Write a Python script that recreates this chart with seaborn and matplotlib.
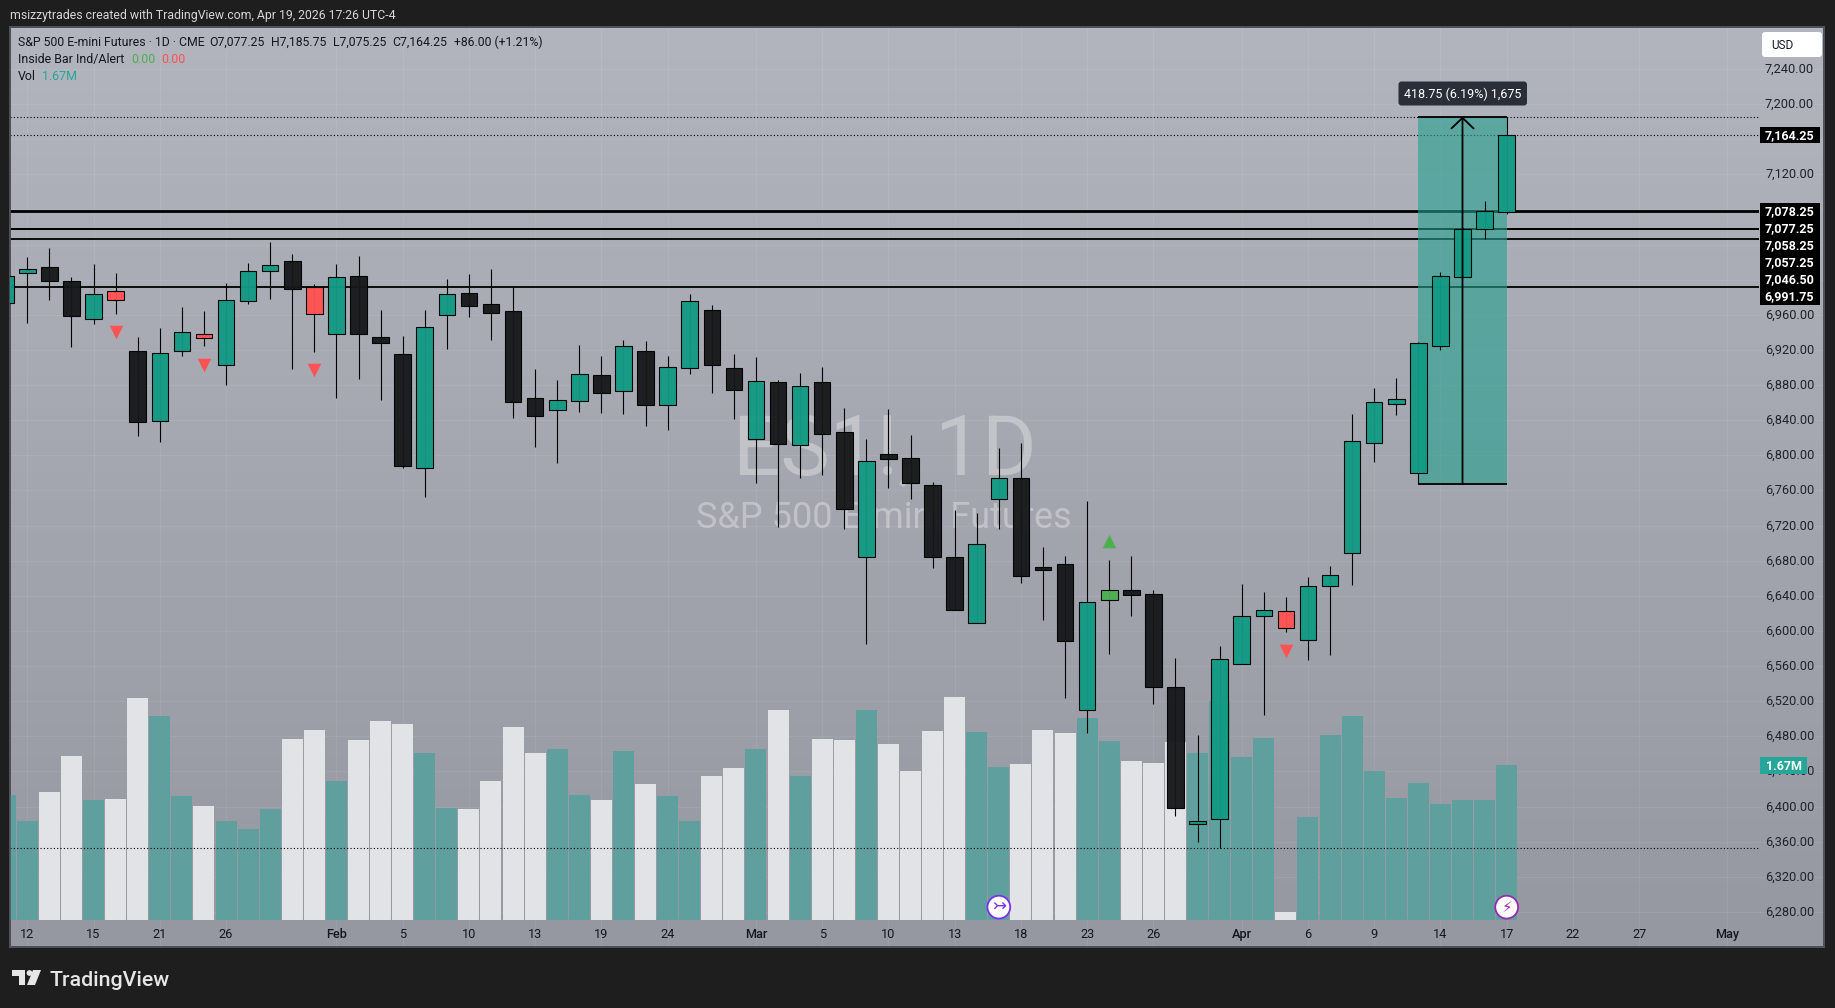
import numpy as np
import pandas as pd
import seaborn as sns
import matplotlib
matplotlib.use('Agg')
from matplotlib import pyplot as plt
from matplotlib.patches import FancyBboxPatch, Rectangle, Polygon, Circle
from matplotlib.transforms import IdentityTransform, Affine2D

# daily candles, first one sits half outside the left edge
opens = [6973.0, 7007.25, 7014.0, 6998.25, 6955.5, 6986.75, 6918.5, 6838.5, 6919.25, 6937.75, 6903.25, 6976.0, 7010.25, 7021.0,
         6992.0, 6938.5, 7003.75, 6934.5, 6915.0, 6785.0, 6960.25, 6984.5, 6972.0, 6964.0, 6865.0, 6852.0, 6862.25, 6891.0,
         6873.5, 6918.5, 6857.75, 6899.75, 6965.0, 6899.0, 6819.0, 6883.0, 6812.0, 6883.0, 6826.25, 6684.5, 6801.0, 6796.5,
         6765.75, 6684.0, 6608.75, 6750.5, 6773.75, 6672.75, 6675.75, 6509.5, 6635.0, 6646.25, 6641.75, 6535.75, 6379.75,
         6385.5, 6562.0, 6617.5, 6622.25, 6589.25, 6650.75, 6688.5, 6813.75, 6858.0, 6779.5, 6925.0, 7003.5, 7057.25, 7077.25]
highs = [7010.0, 7025.5, 7035.75, 7002.75, 7017.5, 7007.25, 6934.5, 6944.5, 6968.5, 6964.0, 6996.0, 7018.5, 7042.5, 7029.25,
         6994.75, 7017.5, 7026.5, 6965.5, 6935.5, 6965.5, 7000.5, 7006.0, 7011.75, 6991.25, 6898.0, 6885.75, 6925.25, 6912.75,
         6931.0, 6929.75, 6912.75, 6983.25, 6970.75, 6915.0, 6911.5, 6885.75, 6893.25, 6900.25, 6853.5, 6818.5, 6852.5, 6822.75,
         6769.25, 6737.5, 6734.0, 6808.0, 6813.5, 6695.5, 6685.25, 6748.0, 6680.5, 6685.25, 6646.25, 6568.75, 6481.25,
         6582.5, 6653.0, 6644.0, 6638.25, 6661.0, 6673.5, 6846.75, 6876.25, 6887.75, 6928.75, 7008.75, 7058.5, 7089.5, 7185.75]
lows = [6960.0, 6951.0, 6977.25, 6923.75, 6950.0, 6961.25, 6822.5, 6815.5, 6912.5, 6925.0, 6879.5, 6972.75, 6978.0, 6898.25,
        6918.0, 6865.75, 6887.25, 6863.0, 6786.0, 6752.0, 6921.5, 6957.5, 6931.75, 6843.0, 6809.5, 6791.75, 6849.75, 6848.5,
        6847.5, 6833.75, 6829.25, 6893.0, 6871.25, 6841.75, 6769.0, 6718.75, 6774.5, 6778.0, 6716.5, 6585.5, 6763.25, 6750.5,
        6671.75, 6624.25, 6608.75, 6716.5, 6655.0, 6612.5, 6524.0, 6484.25, 6574.0, 6617.5, 6517.25, 6389.75, 6360.0,
        6353.25, 6562.0, 6504.75, 6599.25, 6567.25, 6573.0, 6652.5, 6792.75, 6846.25, 6767.0, 6920.25, 7003.5, 7046.25, 7075.25]
closes = [7003.75, 7011.75, 6999.0, 6959.0, 6983.5, 6977.25, 6837.5, 6916.25, 6940.0, 6933.0, 6976.5, 7009.5, 7016.5, 6989.75,
          6961.25, 7002.75, 6938.5, 6928.25, 6788.25, 6945.75, 6983.5, 6970.5, 6962.5, 6861.25, 6845.25, 6862.75, 6892.25, 6871.5,
          6924.0, 6857.75, 6900.25, 6975.25, 6903.25, 6874.75, 6884.25, 6813.25, 6878.5, 6824.5, 6739.25, 6793.25, 6796.25, 6769.0,
          6684.5, 6624.25, 6698.75, 6773.75, 6663.0, 6669.5, 6588.25, 6632.5, 6646.25, 6640.5, 6535.75, 6398.0, 6383.25,
          6567.75, 6616.75, 6623.5, 6603.0, 6650.75, 6663.25, 6816.0, 6860.25, 6863.75, 6927.5, 7003.75, 7058.25, 7077.75, 7164.25]
# g = up, k = down, r / l = inside bar alert colours
kinds = list('ggkkgrkggrgggkrgkkkggkkkkggkgkggkkgkgkkg' 'kkkkggkkkgl' 'kkkggggr' 'gggggggggg')

volumes = [1.347, 1.067, 1.379, 1.767, 1.293, 1.304, 2.392, 2.198, 1.336, 1.228, 1.067, 0.980, 1.196, 1.950, 2.047, 1.497,
           1.939, 2.144, 2.111, 1.799, 1.207, 1.196, 1.497, 2.079, 1.799, 1.842, 1.347, 1.293, 1.821, 1.465, 1.336, 1.067,
           1.551, 1.637, 1.842, 2.262, 1.551, 1.950, 1.939, 2.262, 1.896, 1.605, 2.036, 2.402, 2.025, 1.648, 1.681, 2.047,
           2.015, 2.176, 1.928, 1.713, 1.691, 1.918, 1.799, 2.359, 1.756, 1.961, 0.086, 1.110, 1.993, 2.198, 1.605, 1.314,
           1.476, 1.250, 1.293, 1.293, 1.670]
white_volume_bars = [1, 2, 4, 5, 8, 12, 13, 15, 16, 17, 20, 21, 22, 23, 26, 28, 31, 32, 34, 36, 37, 39, 40, 41, 42,
                     45, 46, 47, 50, 51, 52, 57]

x_tick_bars = [0, 3, 6, 9, 14, 17, 20, 23, 26, 29, 33, 36, 39, 42, 45, 48, 51, 55, 58, 61, 64, 67, 70, 73, 77]
x_tick_labels = ['12', '15', '21', '26', 'Feb', '5', '10', '13', '19', '24', 'Mar', '5', '10', '13', '18', '23', '26',
                 'Apr', '6', '9', '14', '17', '22', '27', 'May']
price_ticks = list(range(6280, 7241, 40))
hidden_price_ticks = [7160, 7080, 7040, 7000]  # sit behind the black flags
level_prices = [7078.25, 7077.25, 7058.25, 7057.25, 7046.50, 6991.75]
dotted_prices = [7185.75, 7164.25, 6353.25]
down_signal_bars = [4, 8, 13, 57]
down_signal_prices = [6940.0, 6903.25, 6896.75, 6577.5]
up_signal_bars = [49]
up_signal_prices = [6702.5]

sns.set_theme(style='white')
plt.rcParams['font.family'] = ['Roboto', 'DejaVu Sans']

W, H = 1835, 1008
LEFT, RIGHT, TOP, BOTTOM = 10, 1824, 27, 947
bars = np.arange(-1, 68)
x_lim = ((LEFT - 27.3) / 22.08, (RIGHT - 27.3) / 22.08)
y_lim = (6240.1, 7287.7)
vol_lim = (-0.291, 9.62)
identity = IdentityTransform()


def fx(px):
    return px / W


def fy(py):
    return 1 - py / H


def ax_frac(px, py):
    return (px - LEFT) / (RIGHT - LEFT), (BOTTOM - py) / (BOTTOM - TOP)


fig = plt.figure(figsize=(W / 100, H / 100), dpi=100, facecolor='#1e1e1e')
rect = [fx(LEFT), fy(BOTTOM), (RIGHT - LEFT) / W, (BOTTOM - TOP) / H]
ax_bg = fig.add_axes(rect, zorder=0)
ax_vol = fig.add_axes(rect, zorder=1)
ax = fig.add_axes(rect, zorder=2)
ax_vol.patch.set_visible(False)
ax.patch.set_visible(False)

# gradient background with faint grid and watermark
gradient = np.linspace(0, 1, 256).reshape(-1, 1)
cmap = matplotlib.colors.LinearSegmentedColormap.from_list('pane', ['#b2b5be', '#9598a1'])
ax_bg.imshow(gradient, aspect='auto', cmap=cmap, extent=(*x_lim, *y_lim), origin='upper', zorder=0)
ax_bg.set_xlim(x_lim)
ax_bg.set_ylim(y_lim)
ax_bg.set_xticks(x_tick_bars)
ax_bg.set_yticks(price_ticks)
ax_bg.set_xticklabels([])
ax_bg.set_yticklabels([])
ax_bg.tick_params(length=0)
ax_bg.grid(True, color='white', alpha=0.07, lw=0.8)
ax_bg.set_axisbelow(False)
ax_bg.text(*ax_frac(885, 451), 'ES1!, 1D', transform=ax_bg.transAxes,
           ha='center', va='center', fontsize=60, color='white', alpha=0.33)
ax_bg.text(*ax_frac(884, 518), 'S&P 500 E-mini Futures', transform=ax_bg.transAxes,
           ha='center', va='center', fontsize=26, color='white', alpha=0.33)

# volume panel
vol_df = pd.DataFrame({'bar': bars, 'volume': volumes})
vol_df['side'] = ['down' if b in white_volume_bars else 'up' for b in bars]
sns.barplot(data=vol_df, x='bar', y='volume', hue='side', palette={'up': '#5fa09f', 'down': '#e2e3e6'}, native_scale=True,
            dodge=False, width=0.95, saturation=1, legend=False, linewidth=0, edgecolor='none', ax=ax_vol)
ax_vol.set_xlim(x_lim)
ax_vol.set_ylim(vol_lim)
ax_vol.set_axis_off()

# key levels and high/low/close dotted lines
level_end = (1759 - 27.3) / 22.08
ax.hlines(level_prices, x_lim[0], level_end, color='black', lw=1.3, zorder=2)
ax.hlines(dotted_prices, x_lim[0], level_end, color='black', lw=0.8, linestyles=(0, (1, 2)), zorder=2)

# measure tool
ax.add_patch(Rectangle((63, 6767), 4, 7185.75 - 6767, facecolor='#26a090', alpha=0.6, lw=0, zorder=3))
ax.hlines([6767, 7185.75], 63, 67, color='black', lw=1.3, zorder=3)

# candles
candle_colors = {'g': '#129a84', 'k': '#17181a', 'r': '#ff5252', 'l': '#4caf50'}
opens_a, closes_a = np.array(opens), np.array(closes)
ax.vlines(bars, lows, highs, color='black', lw=0.8, zorder=4)
ax.bar(bars, np.abs(closes_a - opens_a), bottom=np.minimum(opens_a, closes_a), width=0.75,
       color=[candle_colors[k] for k in kinds], edgecolor='black', linewidth=0.8, alpha=0.96, zorder=4.5)

ax.annotate('', xy=(65, 7185.75), xytext=(65, 6767), zorder=5,
            arrowprops=dict(arrowstyle='->,head_length=7.7,head_width=8', mutation_scale=1, lw=1.3, color='black', shrinkA=0, shrinkB=0))

# inside bar signals
sns.scatterplot(x=down_signal_bars, y=down_signal_prices, marker='v', s=95, color='#ff5252', linewidth=0, ax=ax, zorder=4)
sns.scatterplot(x=up_signal_bars, y=up_signal_prices, marker='^', s=95, color='#4caf50', linewidth=0, ax=ax, zorder=4)

# session icons at the foot of the pane
ax.scatter([44, 67], [6285.5, 6285.5], s=270, facecolor='white', edgecolor=['#7b2ff0', '#9c27b0'], linewidth=1.3, zorder=6)
ax.text(44, 6285.5, '\u21a3', color='#7b2ff0', ha='center', va='center', fontsize=12, family='DejaVu Sans', zorder=7)
ax.text(67, 6285.5, '\u26a1', color='#9c27b0', ha='center', va='center', fontsize=11, family='DejaVu Sans', zorder=7)

ax.set_xlim(x_lim)
ax.set_ylim(y_lim)
ax.set_xticks(x_tick_bars, x_tick_labels)
ax.yaxis.tick_right()
ax.set_yticks(price_ticks, ['' if p in hidden_price_ticks else f'{p:,.2f}' for p in price_ticks])
ax.tick_params(axis='x', length=0, pad=-13.8, labelsize=9.2, labelcolor='#131722')
ax.tick_params(axis='y', length=0, pad=-7.2, labelsize=9.2, labelcolor='#1e222d')
for label in ax.get_yticklabels():
    label.set_ha('right')
    label.set_va('center_baseline')
    label.set_transform(label.get_transform() + Affine2D().translate(0, 1.2))
for label in ax.get_xticklabels():
    if label.get_text() in ('Feb', 'Mar', 'Apr', 'May'):
        label.set_fontweight('medium')
for spine in ax.spines.values():
    spine.set_color('#55585f')
    spine.set_linewidth(1.2)


def px_text(px, py, s, **kw):
    kw.setdefault('fontsize', 9.2)
    kw.setdefault('va', 'center')
    kw.setdefault('zorder', 20)
    return fig.text(fx(px), fy(py), s, **kw)


def px_box(x0, y0, x1, y1, color, round_px=0):
    if round_px:
        patch = FancyBboxPatch((x0 + round_px, H - y1 + round_px), x1 - x0 - 2 * round_px, y1 - y0 - 2 * round_px,
                               boxstyle=f'round,pad={round_px}', facecolor=color, edgecolor='none', transform=identity)
    else:
        patch = Rectangle((x0, H - y1), x1 - x0, y1 - y0, facecolor=color, edgecolor='none', transform=identity)
    patch.set_zorder(15)
    fig.add_artist(patch)


# header and legend text
px_text(10, 15, 'msizzytrades created with TradingView.com, Apr 19, 2026 17:26 UTC-4', color='#d6d6d6', fontsize=8.8)
px_text(18, 42.5, 'S&P 500 E-mini Futures \u00b7 1D \u00b7 CME', color='#131722', fontsize=8.8)
for px, s in zip([209.6, 271, 333, 392.6, 454], ['O7,077.25', 'H7,185.75', 'L7,075.25', 'C7,164.25', '+86.00 (+1.21%)']):
    px_text(px, 42.5, s, color='#131722', fontsize=8.8)
px_text(18, 59.5, 'Inside Bar Ind/Alert', color='#131722', fontsize=8.9)
px_text(131, 59.5, '0.00', color='#4caf50', fontsize=8.9)
px_text(161, 59.5, '0.00', color='#ff5252', fontsize=8.9)
px_text(18, 76.5, 'Vol', color='#131722', fontsize=8.9)
px_text(41.5, 76.5, '1.67M', color='#26a69a', fontsize=8.9)

# price axis flags
px_box(1762, 32, 1822, 57, 'white', round_px=3)
px_text(1782, 45.5, 'USD', color='#131722', ha='center', fontsize=8.5)
px_box(1760, 127, 1820, 143, 'black')
px_text(1814, 135.5, '7,164.25', color='white', ha='right', fontweight='bold', fontsize=9)
px_box(1760, 203, 1820, 305, 'black')
for i, p in enumerate(level_prices):
    px_text(1814, 211.5 + 17 * i, f'{p:,.2f}', color='white', ha='right', fontweight='bold', fontsize=9)
px_box(1760, 757, 1807, 774, '#26a69a')
px_text(1783.5, 766, '1.67M', color='white', ha='center', fontweight='bold', fontsize=9)

# measure tooltip
px_box(1398.5, 81.5, 1527, 105.5, '#2a2e39', round_px=3)
px_text(1462.7, 94, '418.75 (6.19%) 1,675', color='white', ha='center', fontsize=9)

# TradingView logo
for poly in ([(12, 970), (25, 970), (25, 985), (19, 985), (19, 975.5), (12, 975.5)],
             [(33, 970), (41, 970), (35, 985), (27, 985)]):
    fig.add_artist(Polygon([(x, H - y) for x, y in poly], closed=True, facecolor='#e6e6e6', edgecolor='none', transform=identity))
fig.add_artist(Circle((29.5, H - 973), 2.9, facecolor='#e6e6e6', edgecolor='none', transform=identity))
px_text(49, 980, 'TradingView', color='#e6e6e6', fontsize=15.4, fontweight='medium')

fig.savefig('out.png', dpi=100, facecolor=fig.get_facecolor())
